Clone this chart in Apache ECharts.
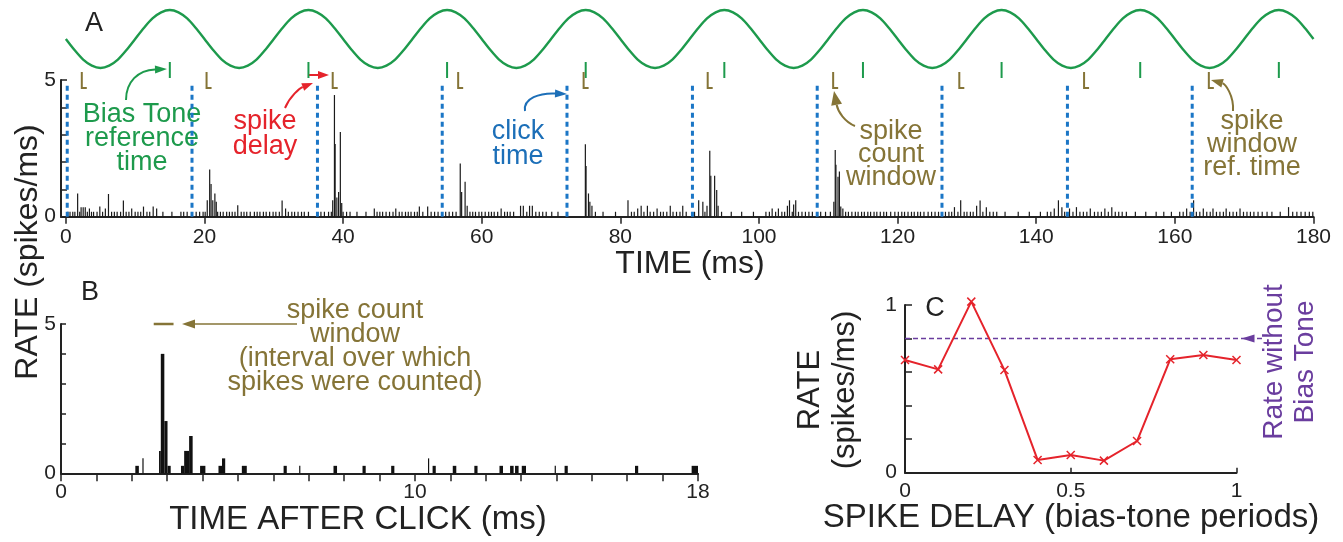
<!DOCTYPE html>
<html>
<head>
<meta charset="utf-8">
<script src="https://cdn.jsdelivr.net/npm/echarts@6/dist/echarts.min.js"></script>
<style>
html, body { margin: 0; padding: 0; background: #fff; }
#main { width: 1343px; height: 542px; }
</style>
</head>
<body>
<div id="main"></div>
<script>
/** A: bias tone trace, sampled every 1.25 ms off the green curve */
var toneStep = 1.25;
var toneValues = [
  0, -0.38, -0.71, -0.92, -1, -0.92, -0.71, -0.38, 0, 0.38, 0.71, 0.92, 1, 0.92, 0.71, 0.38,
  0, -0.38, -0.71, -0.92, -1, -0.92, -0.71, -0.38, 0, 0.38, 0.71, 0.92, 1, 0.92, 0.71, 0.38,
  0, -0.38, -0.71, -0.92, -1, -0.92, -0.71, -0.38, 0, 0.38, 0.71, 0.92, 1, 0.92, 0.71, 0.38,
  0, -0.38, -0.71, -0.92, -1, -0.92, -0.71, -0.38, 0, 0.38, 0.71, 0.92, 1, 0.92, 0.71, 0.38,
  0, -0.38, -0.71, -0.92, -1, -0.92, -0.71, -0.38, 0, 0.38, 0.71, 0.92, 1, 0.92, 0.71, 0.38,
  0, -0.38, -0.71, -0.92, -1, -0.92, -0.71, -0.38, 0, 0.38, 0.71, 0.92, 1, 0.92, 0.71, 0.38,
  0, -0.38, -0.71, -0.92, -1, -0.92, -0.71, -0.38, 0, 0.38, 0.71, 0.92, 1, 0.92, 0.71, 0.38,
  0, -0.38, -0.71, -0.92, -1, -0.92, -0.71, -0.38, 0, 0.38, 0.71, 0.92, 1, 0.92, 0.71, 0.38,
  0, -0.38, -0.71, -0.92, -1, -0.92, -0.71, -0.38, 0, 0.38, 0.71, 0.92, 1, 0.92, 0.71, 0.38,
  0
];
var biasRefTimes = [15, 35, 55, 75, 95, 115, 135, 155, 175];
var clickTimes = [0.2, 18.2, 36.3, 54.3, 72.3, 90.4, 108.4, 126.4, 144.5, 162.5];
var windowRefTimes = [2.3, 20.3, 38.5, 56.6, 74.7, 92.6, 110.7, 128.9, 146.9, 164.9];
var timeTicks = [0, 20, 40, 60, 80, 100, 120, 140, 160, 180];

// spikes/ms histogram: single-spike bins share one height, the rest are listed with theirs
var baseSpikeHeight = 0.18;
var baseSpikeTimes = [
  0.3, 0.6, 1.0, 1.3, 2.0, 3.1, 3.7, 4.0, 4.5, 5.3, 6.6, 7.0, 7.4, 7.9, 8.7, 9.1, 10.0, 10.4, 10.8, 11.7, 12.1, 14.0, 15.3, 16.6, 17.0, 17.5,
  18.8, 19.3, 19.8, 20.1, 21.9, 22.3, 22.7, 23.2, 23.6, 24.0, 24.4, 25.3, 25.7, 26.1, 26.6, 27.2, 27.6, 28.0, 28.5, 28.9, 29.4, 29.9, 30.3, 30.8, 32.1, 32.6, 33.0, 33.5, 34.0, 34.4, 35.0,
  36.8, 37.3, 37.9, 38.3, 40.0, 40.5, 41.0, 42.0, 43.3, 44.9, 45.3, 45.7, 46.2, 46.7, 47.2, 48.1, 48.5, 49.0, 49.4, 49.8, 50.3, 50.7, 51.5, 52.7, 53.2, 53.7,
  54.8, 55.3, 55.8, 56.3, 58.3, 58.7, 59.1, 59.6, 60.0, 60.5, 61.0, 61.4, 61.8, 62.3, 63.3, 63.7, 64.1, 64.6, 66.5, 67.8, 68.3, 68.8, 69.3, 70.1, 71.0,
  76.4, 77.5, 79.3, 81.6, 82.0, 83.4, 84.3, 84.8, 85.8, 86.2, 86.7, 87.6, 88.1, 88.6, 89.5,
  90.7, 92.2, 94.6, 96.0, 97.5, 99.2, 101.0, 101.5, 102.4, 103.3, 103.7, 104.8, 105.7, 106.2, 106.7, 107.2, 107.7,
  108.9, 109.6, 110.3, 112.5, 112.9, 113.4, 113.9, 114.3, 114.8, 115.2, 115.7, 116.1, 116.6, 117.0, 117.5, 118.0, 118.4, 119.0, 119.6, 120.1, 120.6, 121.0, 121.5, 122.0, 122.4, 122.9, 123.3, 123.8, 124.4, 124.9, 125.4, 125.9,
  126.9, 127.4, 127.8, 128.7, 129.6, 130.0, 130.5, 130.9, 132.3, 133.3, 133.8, 134.3, 135.5, 137.4, 139.0, 140.6, 141.6, 142.1, 144.1,
  145.3, 146.3, 146.8, 147.3, 148.4, 148.9, 149.4, 150.4, 151.4, 151.9, 152.4, 153.0, 154.3, 155.8, 157.3, 158.4, 159.5, 160.7, 161.2, 162.2,
  163.1, 163.6, 164.6, 165.1, 166.0, 166.5, 167.0, 167.9, 168.4, 168.9, 169.9, 170.4, 170.9, 171.4, 172.0, 172.6, 173.3, 174.0, 175.2, 177.0, 177.6, 178.2, 178.8, 179.4, 179.9
];
var tallSpikes = [
  [1.7, 0.85], [2.2, 0.35], [2.5, 0.35], [2.8, 0.35], [3.4, 0.3], [4.9, 0.37], [5.7, 0.3], [6.15, 0.83], [8.3, 0.59], [9.5, 0.3], [11.2, 0.37], [12.6, 0.37], [13.1, 0.3],
  [20.4, 0.6], [20.75, 1.73], [20.95, 1.2], [21.2, 0.6], [21.5, 0.85], [21.7, 0.55], [24.8, 0.42], [31.2, 0.59], [31.7, 0.3],
  [38.5, 0.6], [38.75, 4.45], [38.85, 2.66], [39.1, 0.7], [39.35, 0.9], [39.6, 3.1], [39.8, 0.5], [44.5, 0.3], [47.6, 0.3], [51.0, 0.37], [52.2, 0.37],
  [56.9, 1.95], [57.1, 0.9], [57.6, 1.28], [57.9, 0.4], [62.8, 0.3], [65.6, 0.4], [66.0, 0.4], [66.9, 0.4], [67.3, 0.4],
  [74.95, 2.65], [75.05, 1.85], [75.4, 0.85], [75.6, 0.55], [75.9, 0.4], [81.1, 0.6], [82.5, 0.3], [83.0, 0.4], [83.9, 0.4], [85.3, 0.3], [87.2, 0.4], [89.0, 0.4],
  [91.3, 0.6], [91.9, 0.55], [92.5, 0.4], [92.9, 2.41], [93.05, 1.5], [93.6, 1.5], [93.9, 0.98], [94.1, 0.4], [101.9, 0.3], [102.8, 0.3], [104.1, 0.4], [104.4, 0.6], [105.0, 0.45], [105.3, 0.6],
  [110.8, 0.55], [111.0, 2.44], [111.1, 1.9], [111.4, 1.46], [111.6, 1.65], [111.8, 0.37], [112.1, 0.3],
  [128.2, 0.35], [129.1, 0.6], [131.4, 0.4], [131.9, 0.59], [132.8, 0.35], [142.6, 0.3], [143.2, 0.6], [143.7, 0.35],
  [144.8, 0.3], [145.8, 0.35], [147.8, 0.3], [149.9, 0.3], [150.9, 0.35], [161.7, 0.3],
  [162.7, 0.6], [164.1, 0.3], [165.5, 0.3], [167.4, 0.3], [169.4, 0.3], [176.4, 0.35]
];

/** B: PSTH after click, [bin start, bin end, rate] */
var psthBins = [
  [2.10, 2.20, 0.25], [2.30, 2.33, 0.5], [2.77, 2.82, 0.75], [2.82, 2.92, 4.0], [2.92, 3.01, 1.75], [3.01, 3.10, 0.25],
  [3.39, 3.48, 0.25], [3.48, 3.62, 0.75], [3.62, 3.72, 1.25], [3.93, 4.08, 0.25], [4.45, 4.55, 0.25], [4.55, 4.64, 0.5],
  [5.11, 5.25, 0.25], [6.29, 6.38, 0.25], [6.73, 6.76, 0.25], [7.70, 7.80, 0.25], [8.52, 8.61, 0.25], [9.33, 9.42, 0.25],
  [10.37, 10.40, 0.5], [10.50, 10.59, 0.25], [11.07, 11.17, 0.25], [11.68, 11.77, 0.25], [12.39, 12.49, 0.25],
  [12.69, 12.79, 0.25], [12.83, 12.93, 0.25], [13.02, 13.14, 0.25], [13.95, 13.98, 0.25], [14.23, 14.32, 0.25],
  [16.22, 16.31, 0.25], [17.82, 18.0, 0.25]
];
var countWindow = [2.62, 3.18];

/** C: rate vs spike delay */
var delays = [0, 0.1, 0.2, 0.3, 0.4, 0.5, 0.6, 0.7, 0.8, 0.9, 1.0];
var rates = [0.672, 0.616, 1.02, 0.612, 0.076, 0.106, 0.072, 0.189, 0.676, 0.702, 0.672];
var rateNoTone = 0.8;

var FONT = '"Liberation Sans", Arial, sans-serif';
var INK = '#222';
var GREEN = '#1d9a4c', RED = '#e5232b', BLUE = '#1c6fb8', BROWN = '#857437', PURPLE = '#6a3d9e';

var toneData = toneValues.map(function (v, i) { return [i * toneStep, v]; });
var spikeData = baseSpikeTimes.map(function (t) { return [t, baseSpikeHeight]; }).concat(tallSpikes);

function axisBase(extra) {
  var o = {
    type: 'value',
    axisLine: { show: true, onZero: false, lineStyle: { color: INK, width: 2 } },
    axisTick: { show: true, lineStyle: { color: INK, width: 1.5 } },
    axisLabel: { color: INK, fontSize: 21, fontFamily: FONT },
    splitLine: { show: false }
  };
  for (var k in extra) {
    if (typeof extra[k] === 'object' && o[k] && !Array.isArray(extra[k])) {
      for (var j in extra[k]) o[k][j] = extra[k][j];
    } else {
      o[k] = extra[k];
    }
  }
  return o;
}

function only(vals) {
  return function (v) { return vals.indexOf(+v.toFixed(3)) >= 0 ? String(v) : ''; };
}

function arrow(p, color, headLen, headW, lw) {
  var tx = p[6], ty = p[7];
  var dx = tx - p[4], dy = ty - p[5];
  var d = Math.sqrt(dx * dx + dy * dy);
  var ux = dx / d, uy = dy / d;
  var bx = tx - ux * headLen, by = ty - uy * headLen;
  return [{
    type: 'bezierCurve',
    shape: { x1: p[0], y1: p[1], cpx1: p[2], cpy1: p[3], cpx2: p[4], cpy2: p[5], x2: bx, y2: by },
    style: { stroke: color, lineWidth: lw || 2, fill: null }
  }, {
    type: 'polygon',
    shape: { points: [[tx, ty], [bx - uy * headW / 2, by + ux * headW / 2], [bx + uy * headW / 2, by - ux * headW / 2]] },
    style: { fill: color }
  }];
}

function label(text, x, y, color, size, lh, rot) {
  return {
    type: 'text', x: x, y: y, rotation: rot || 0,
    style: { text: text, fill: color, font: size + 'px ' + FONT, align: 'center', verticalAlign: 'middle', lineHeight: lh || size }
  };
}

var chart = echarts.init(document.getElementById('main'));

var graphics = [
  label('A', 94, 24, INK, 27),
  label('B', 90, 293, INK, 27),
  label('C', 935, 309, INK, 27),
  label('Bias Tone\nreference\ntime', 142, 139, GREEN, 27, 24),
  label('spike\ndelay', 265, 134, RED, 27, 25),
  label('click\ntime', 518, 144, BLUE, 27, 25),
  label('spike\ncount\nwindow', 891, 155, BROWN, 27, 23),
  label('spike\nwindow\nref. time', 1252, 145, BROWN, 27, 23),
  label('spike count\nwindow\n(interval over which\nspikes were counted)', 355, 347, BROWN, 27, 24),
  label('Rate without\nBias Tone', 1290, 362, PURPLE, 28, 31, Math.PI / 2),
  label('RATE (spikes/ms)', 28, 252, INK, 32, 32, Math.PI / 2),
  label('RATE\n(spikes/ms)', 828, 390, INK, 31, 35, Math.PI / 2),
  label('TIME (ms)', 690, 264, INK, 32),
  label('TIME AFTER CLICK (ms)', 358, 520, INK, 33),
  label('SPIKE DELAY (bias-tone periods)', 1071, 518, INK, 33)
].concat(
  arrow([126, 100, 126, 82, 138, 70, 167, 69], GREEN, 12, 8),
  arrow([285, 108, 290, 96, 300, 88, 313, 83], RED, 11, 8),
  arrow([309, 75, 314, 75, 318, 75, 329, 75], RED, 11, 8),
  arrow([525, 111, 523, 98, 540, 93, 567, 94], BLUE, 12, 8),
  arrow([855, 126, 845, 122, 838, 112, 834, 91], BROWN, 14, 11),
  arrow([1233, 111, 1234, 95, 1225, 84, 1211, 80], BROWN, 12, 9),
  arrow([297, 324, 260, 324, 220, 324, 182, 324], BROWN, 13, 9, 1.5)
);

var option = {
  animation: false,
  backgroundColor: '#fff',
  grid: [
    { left: 61, top: 80, width: 1252.5, height: 136.7, outerBoundsMode: 'none' },
    { left: 61, top: 324, width: 637, height: 149.3, outerBoundsMode: 'none' },
    { left: 905, top: 305, width: 331.5, height: 167.7, outerBoundsMode: 'none' },
    { left: 61, top: 10, width: 1252.5, height: 58, outerBoundsMode: 'none' }
  ],
  xAxis: [
    axisBase({ gridIndex: 0, min: -0.7, max: 180,
      axisTick: { customValues: timeTicks, length: 7 },
      axisLabel: { customValues: timeTicks, margin: 10 } }),
    axisBase({ gridIndex: 1, min: 0, max: 18, interval: 1,
      axisTick: { length: 8 },
      axisLabel: { margin: 8, formatter: only([0, 10, 18]) } }),
    axisBase({ gridIndex: 2, min: 0, max: 1, interval: 0.5,
      axisTick: { inside: true, length: 5 },
      axisLabel: { margin: 8 } }),
    { gridIndex: 3, type: 'value', min: -0.7, max: 180, show: false }
  ],
  yAxis: [
    axisBase({ gridIndex: 0, min: 0, max: 5, interval: 1,
      axisTick: { inside: true, length: 6 },
      axisLabel: { margin: 5, formatter: only([0, 5]) } }),
    axisBase({ gridIndex: 1, min: 0, max: 5, interval: 1,
      axisTick: { inside: true, length: 5 },
      axisLabel: { margin: 5, formatter: only([0, 5]) } }),
    axisBase({ gridIndex: 2, min: 0, max: 1, interval: 0.2,
      axisTick: { inside: true, length: 7 },
      axisLabel: { margin: 8, formatter: only([0, 1]) } }),
    { gridIndex: 3, type: 'value', min: -1, max: 1, show: false }
  ],
  series: [
    {
      name: 'bias tone', type: 'line', xAxisIndex: 3, yAxisIndex: 3,
      data: toneData, smooth: 0.3, showSymbol: false, clip: false,
      lineStyle: { color: GREEN, width: 2.4 }
    },
    {
      name: 'spikes', type: 'custom', xAxisIndex: 0, yAxisIndex: 0,
      data: spikeData, encode: { x: 0, y: 1 }, z: 3,
      renderItem: function (params, api) {
        var p0 = api.coord([api.value(0), 0]);
        var p1 = api.coord([api.value(0), api.value(1)]);
        return { type: 'line', shape: { x1: p0[0], y1: p0[1], x2: p1[0], y2: p1[1] },
          style: { stroke: '#1a1a1a', lineWidth: 1.2 } };
      }
    },
    {
      name: 'click', type: 'custom', xAxisIndex: 0, yAxisIndex: 0,
      data: clickTimes.map(function (t) { return [t]; }), encode: { x: 0 }, z: 4,
      renderItem: function (params, api) {
        var p0 = api.coord([api.value(0), 0]);
        var p1 = api.coord([api.value(0), 4.9]);
        return { type: 'line', shape: { x1: p0[0], y1: p0[1], x2: p1[0], y2: p1[1] },
          style: { stroke: '#1b76c6', lineWidth: 3, lineDash: [5, 4] } };
      }
    },
    {
      name: 'bias ref', type: 'custom', xAxisIndex: 0, yAxisIndex: 0, clip: false,
      data: biasRefTimes.map(function (t) { return [t]; }), encode: { x: 0 },
      renderItem: function (params, api) {
        var p = api.coord([api.value(0), 5]);
        return { type: 'line', shape: { x1: p[0], y1: p[1] - 18, x2: p[0], y2: p[1] - 2 },
          style: { stroke: GREEN, lineWidth: 2 } };
      }
    },
    {
      name: 'window ref', type: 'custom', xAxisIndex: 0, yAxisIndex: 0, clip: false,
      data: windowRefTimes.map(function (t) { return [t]; }), encode: { x: 0 },
      renderItem: function (params, api) {
        var p = api.coord([api.value(0), 5]);
        return { type: 'polyline', shape: { points: [[p[0], p[1] - 8], [p[0], p[1] + 8], [p[0] + 5, p[1] + 8]] },
          style: { stroke: BROWN, lineWidth: 2, fill: null } };
      }
    },
    {
      name: 'psth', type: 'custom', xAxisIndex: 1, yAxisIndex: 1,
      data: psthBins, encode: { x: [0, 1], y: 2 },
      renderItem: function (params, api) {
        var a = api.coord([api.value(0), api.value(2)]);
        var b = api.coord([api.value(1), 0]);
        return { type: 'rect', shape: { x: a[0], y: a[1], width: Math.max(b[0] - a[0], 1.2), height: b[1] - a[1] },
          style: { fill: '#111' } };
      }
    },
    {
      name: 'count window', type: 'custom', xAxisIndex: 1, yAxisIndex: 1, clip: false,
      data: [countWindow], encode: { x: [0, 1] },
      renderItem: function (params, api) {
        var a = api.coord([api.value(0), 5]);
        var b = api.coord([api.value(1), 5]);
        return { type: 'line', shape: { x1: a[0], y1: a[1], x2: b[0], y2: b[1] },
          style: { stroke: BROWN, lineWidth: 2.5 } };
      }
    },
    {
      name: 'rate', type: 'line', xAxisIndex: 2, yAxisIndex: 2, clip: false,
      data: delays.map(function (d, i) { return [d, rates[i]]; }),
      symbol: 'path://M0,0L10,10M10,0L0,10', symbolSize: 8, showSymbol: true,
      lineStyle: { color: RED, width: 2 },
      itemStyle: { color: RED, borderColor: RED, borderWidth: 1.5 }, z: 4
    },
    {
      name: 'rate without tone', type: 'custom', xAxisIndex: 2, yAxisIndex: 2, clip: false,
      data: [[rateNoTone]], encode: { y: 0 },
      renderItem: function (params, api) {
        var p0 = api.coord([0, api.value(0)]);
        var p1 = api.coord([1, api.value(0)]);
        var tip = p1[0] + 5, y = p0[1];
        return { type: 'group', children: [
          { type: 'line', shape: { x1: p0[0], y1: y, x2: p1[0] + 27, y2: y },
            style: { stroke: PURPLE, lineWidth: 1.5, lineDash: [5, 3] } },
          { type: 'polygon', shape: { points: [[tip, y], [tip + 13, y - 4], [tip + 13, y + 4]] },
            style: { fill: PURPLE } }
        ] };
      }
    }
  ],
  graphic: graphics
};

chart.setOption(option);
</script>
</body>
</html>
